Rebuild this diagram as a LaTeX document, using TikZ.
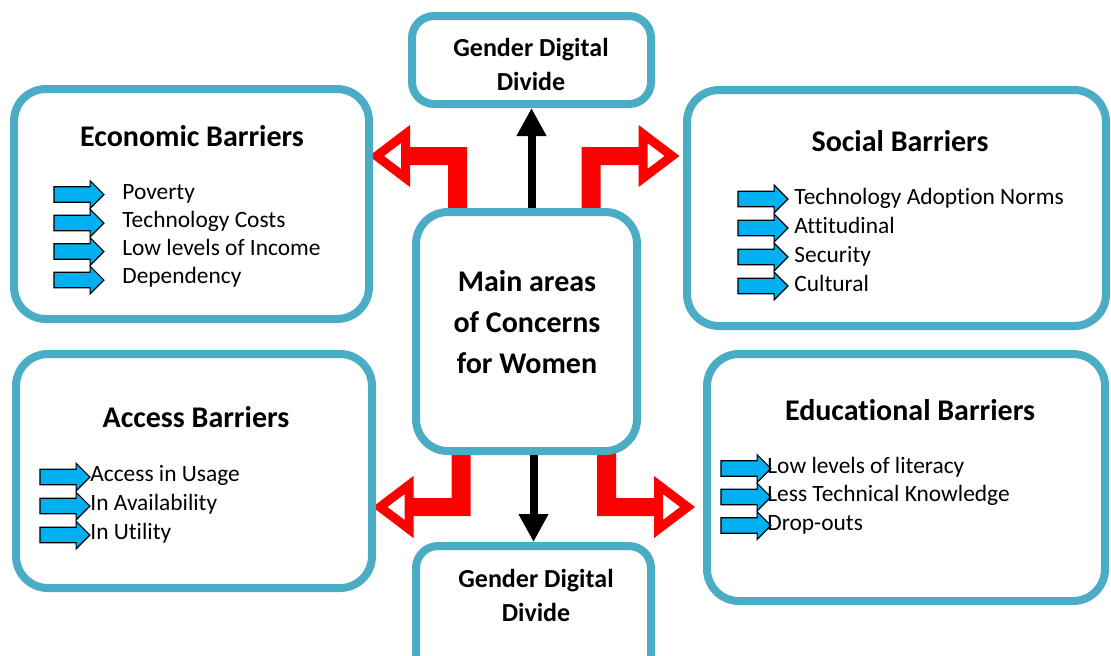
\documentclass[tikz,border=0pt]{standalone}
\usepackage{fontspec}
\setmainfont{Carlito}[Ligatures=NoCommon]
\usetikzlibrary{calc,positioning,shapes.arrows,arrows.meta,backgrounds}
\definecolor{boxblue}{RGB}{75,172,198}
\definecolor{itemblue}{RGB}{0,176,240}
\tikzset{%
  >={Triangle[width=14pt,length=14pt]},
  box/.style={draw=boxblue,line width=4pt,fill=white,rounded corners=16pt},
  gddbox/.style={box,rounded corners=11pt},
  title/.style={inner sep=0pt,font=\bfseries\fontsize{15}{20.5}\selectfont},
  gddtext/.style={inner sep=0pt,align=center,font=\bfseries\fontsize{13}{17}\selectfont},
  item/.style={anchor=west,inner sep=0pt,font=\fontsize{11.7}{13}\selectfont,text height=1.6ex,text depth=.4ex},
  itemarrow/.style={single arrow,draw=black,fill=itemblue,line width=.6pt,inner sep=3.6pt,minimum height=25pt,single arrow head extend=3pt},
  redstem/.style={fill=red},
  redhead/.style={draw=red,line width=4.5pt,fill=white,line join=miter},
  blackline/.style={->,line width=4pt}
}
\begin{document}
\begin{tikzpicture}[x=0.5pt,y=-0.5pt]
\useasboundingbox (0,0) rectangle (1111,655);
% boxes
\node[box,minimum width=177.5pt,minimum height=115pt] (econ) at (191.5,204) {};
\node[box,minimum width=209.5pt,minimum height=118pt] (social) at (896.5,208) {};
\node[box,minimum width=178pt,minimum height=117pt] (access) at (194,471) {};
\node[box,minimum width=199pt,minimum height=123.5pt] (edu) at (906,477.5) {};
\node[box,minimum width=110.5pt,minimum height=119.5pt] (center) at (526.5,331.5) {};
\node[gddbox,minimum width=119.5pt,minimum height=44pt] (gddtop) at (531.5,60) {};
\node[gddbox,minimum width=117.5pt,minimum height=70pt] (gddbot) at (533.5,616) {};
% texts
\node[title] (econ-t) at (192,136) {Economic Barriers};
\node[title] (social-t) at (900,141) {Social Barriers};
\node[title] (access-t) at (196,417) {Access Barriers};
\node[title] (edu-t) at (910,410) {Educational Barriers};
\node[title,align=center] (center-t) at (527,322) {Main areas\\of Concerns\\for Women};
\node[gddtext] (gddtop-t) at (531,64) {Gender Digital\\Divide};
\node[gddtext] (gddbot-t) at (536,595) {Gender Digital\\Divide};
% items
\foreach \txt [count=\i] in {Poverty,Technology Costs,Low levels of Income,Dependency}{
  \node[itemarrow] (econ-a\i) at (75,{166+28.5*\i}) {};
  \node[item] (econ-i\i) at (122,{166+28*\i}) {\txt};
}
\foreach \txt [count=\i] in {Technology Adoption Norms,Attitudinal,Security,Cultural}{
  \node[itemarrow] (social-a\i) at (759,{170+29*\i}) {};
  \node[item] (social-i\i) at (794,{170+29*\i}) {\txt};
}
\foreach \txt [count=\i] in {Access in Usage,In Availability,In Utility}{
  \node[itemarrow] (access-a\i) at (61,{448+29*\i}) {};
  \node[item] (access-i\i) at (90,{447+29*\i}) {\txt};
}
\foreach \txt [count=\i] in {Low levels of literacy,Less Technical Knowledge,Drop-outs}{
  \node[itemarrow] (edu-a\i) at (742,{440+28.5*\i}) {};
  \node[item] (edu-i\i) at (767,{439+28.5*\i}) {\txt};
}
% connectors
\draw[blackline] (center.north -| gddtop.south) -- (gddtop.south);
\draw[blackline] (center.south -| gddbot.north) -- (gddbot.north);
\begin{scope}[on background layer]
\foreach \anc/\dx/\sx/\sy in {north/-69/-1/1,north/64.5/1/1,south/-65.5/-1/-1,south/80/1/-1}{
  \fill[redstem,shift={($(center.\anc)+(\dx,4*\sy)$)},xscale=\sx,yscale=\sy]
    (-9.5,0) -- (-9.5,-65) -- (52,-65) -- (52,-47) -- (9.5,-47) -- (9.5,0) -- cycle;
  \draw[redhead,shift={($(center.\anc)+(\dx,4*\sy)$)},xscale=\sx,yscale=\sy]
    (52,-78) -- (81,-56) -- (52,-34) -- cycle;
}
\end{scope}
\end{tikzpicture}
\end{document}
